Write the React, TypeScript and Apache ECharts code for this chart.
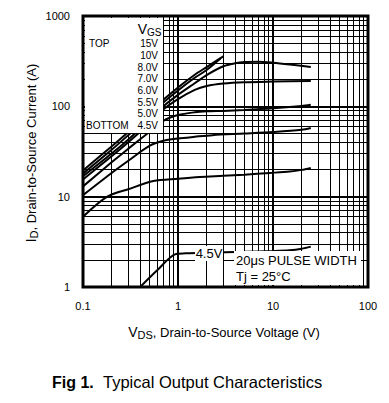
import React, { useEffect, useRef } from "react";
import * as echarts from "echarts";

// Grid values (log decades and minor lines)
const xMinor = [0.2, 0.3, 0.4, 0.5, 0.6, 0.7, 0.8, 0.9, 2, 3, 4, 5, 6, 7, 8, 9, 20, 30, 40, 50, 60, 70, 80, 90];
const yMinor = [2, 3, 4, 5, 6, 7, 8, 9, 20, 30, 40, 50, 60, 70, 80, 90, 200, 300, 400, 500, 600, 700, 800, 900];

// Curves: [VDS (V), ID (A)]
const vgs15 = [[0.1, 19.5], [0.2, 36], [0.3, 52], [0.5, 84], [0.7, 118], [1, 162], [1.5, 224], [2, 272], [3, 358]];
const vgs10 = [[0.1, 18], [0.2, 33], [0.3, 48], [0.5, 78], [0.7, 110], [1, 150], [1.5, 207], [2, 252], [2.8, 338]];
const vgs8 = [[0.1, 16.8], [0.2, 30], [0.3, 43], [0.5, 70], [0.7, 100], [1, 134], [1.5, 180], [2, 222], [3, 278], [4, 300], [5, 309], [7, 311], [10, 304], [15, 291], [25, 273]];
const vgs7 = [[0.1, 15.5], [0.2, 28], [0.3, 40], [0.5, 65], [0.7, 92], [1, 120], [1.5, 152], [2, 168], [3, 179], [5, 185], [10, 188], [25, 191]];
const vgs6 = [[0.1, 13], [0.2, 24], [0.3, 34], [0.5, 52], [0.7, 69], [1, 80], [1.5, 86], [2, 88], [3, 89], [5, 91], [10, 95], [20, 101], [25, 104]];
const vgs55 = [[0.1, 10.4], [0.2, 18.3], [0.3, 25], [0.5, 36.5], [0.7, 41.5], [1, 44], [1.5, 46], [2.3, 48], [5, 50], [10, 52], [20, 55], [25, 57.6]];
const vgs5 = [[0.1, 6.0], [0.18, 10.0], [0.3, 12.1], [0.55, 14.9], [1, 15.8], [1.7, 16.5], [3, 17], [5, 17.5], [9.3, 18.3], [15, 19], [20, 19.8], [25, 20.8]];
const vgs45 = [[0.4, 1.0], [0.6, 1.52], [0.93, 2.3], [1.2, 2.36], [2, 2.4], [5, 2.45], [10, 2.5], [15, 2.55], [20, 2.65], [25, 2.8]];

const curves = [vgs15, vgs10, vgs8, vgs7, vgs6, vgs55, vgs5, vgs45];
const legendLabels = ["15V", "10V", "8.0V", "7.0V", "6.0V", "5.5V", "5.0V", "4.5V"];

const FONT = "'Liberation Sans', Arial, Helvetica, sans-serif";

export default function App() {
  const ref = useRef<HTMLDivElement>(null);

  useEffect(() => {
    if (!ref.current) return;
    const chart = echarts.init(ref.current, undefined, { renderer: "svg" });

    const legendY = [43, 55, 67, 78.5, 90.5, 102, 113.5, 125.5];

    const graphic: any[] = [
      { type: "rect", z: 100, shape: { x: 85, y: 18, width: 78, height: 115 }, style: { fill: "#fff" } },
      { type: "rect", z: 100, shape: { x: 195, y: 246, width: 28, height: 15 }, style: { fill: "#fff" } },
      { type: "rect", z: 100, shape: { x: 234, y: 251, width: 127, height: 34 }, style: { fill: "#fff" } },
      { type: "text", z: 101, x: 147, y: 29, style: { text: "V", font: `14px ${FONT}`, fill: "#000", align: "right", verticalAlign: "middle" } },
      { type: "text", z: 101, x: 147, y: 32, style: { text: "GS", font: `10px ${FONT}`, fill: "#000", align: "left", verticalAlign: "middle" } },
      { type: "text", z: 101, x: 89, y: 43, style: { text: "TOP", font: `10px ${FONT}`, fill: "#000", align: "left", verticalAlign: "middle" } },
      { type: "text", z: 101, x: 86, y: 125.5, style: { text: "BOTTOM", font: `10px ${FONT}`, fill: "#000", align: "left", verticalAlign: "middle" } },
      { type: "text", z: 101, x: 209, y: 253, style: { text: "4.5V", font: `13px ${FONT}`, fill: "#000", align: "center", verticalAlign: "middle" } },
      { type: "text", z: 101, x: 236, y: 260, style: { text: "20\u03bcs PULSE WIDTH", font: `13px ${FONT}`, fill: "#000", align: "left", verticalAlign: "middle" } },
      { type: "text", z: 101, x: 236, y: 276, style: { text: "Tj = 25\u00b0C", font: `13px ${FONT}`, fill: "#000", align: "left", verticalAlign: "middle" } },
      {
        type: "text", z: 101, x: 224, y: 332,
        style: {
          text: "{v|V}{s|DS}{t|, Drain-to-Source Voltage (V)}",
          align: "center", verticalAlign: "middle", fill: "#000",
          rich: {
            v: { fontSize: 14, fontFamily: FONT, lineHeight: 16, fill: "#000" },
            s: { fontSize: 11, fontFamily: FONT, lineHeight: 8, verticalAlign: "bottom", fill: "#000" },
            t: { fontSize: 13, fontFamily: FONT, lineHeight: 16, fill: "#000" },
          },
        },
      },
      {
        type: "text", z: 101, x: 31, y: 153, rotation: Math.PI / 2,
        style: {
          text: "{v|I}{s|D}{t|, Drain-to-Source Current (A)}",
          align: "center", verticalAlign: "middle", fill: "#000",
          rich: {
            v: { fontSize: 14, fontFamily: FONT, lineHeight: 16, fill: "#000" },
            s: { fontSize: 11, fontFamily: FONT, lineHeight: 8, verticalAlign: "bottom", fill: "#000" },
            t: { fontSize: 13, fontFamily: FONT, lineHeight: 16, fill: "#000" },
          },
        },
      },
      { type: "text", z: 101, x: 52, y: 382, style: { text: "Fig 1.", font: `bold 16px ${FONT}`, fill: "#000", align: "left", verticalAlign: "middle" } },
      { type: "text", z: 101, x: 103, y: 382, style: { text: "Typical Output Characteristics", font: `16.5px ${FONT}`, fill: "#000", align: "left", verticalAlign: "middle" } },
    ];
    legendLabels.forEach((t, i) => {
      graphic.push({ type: "text", z: 101, x: 158, y: legendY[i], style: { text: t, font: `10px ${FONT}`, fill: "#000", align: "right", verticalAlign: "middle" } });
    });

    const series: any[] = [
      {
        type: "line",
        data: [[1, 1]],
        showSymbol: false,
        symbol: "none",
        lineStyle: { opacity: 0 },
        silent: true,
        z: 1,
        markLine: {
          silent: true,
          symbol: "none",
          animation: false,
          label: { show: false },
          lineStyle: { color: "#000", width: 1, type: "solid" },
          data: [
            ...xMinor.map((v) => ({ xAxis: v })),
            ...yMinor.map((v) => ({ yAxis: v })),
          ],
        },
      },
      ...curves.map((d) => ({
        type: "line",
        data: d,
        showSymbol: false,
        symbol: "none",
        smooth: 0.3,
        silent: true,
        z: 3,
        lineStyle: { color: "#000", width: 2 },
      })),
    ];

    chart.setOption({
      animation: false,
      backgroundColor: "#fff",
      grid: { left: 83, top: 16, width: 285, height: 271, show: true, borderColor: "#000", borderWidth: 3, backgroundColor: "transparent" },
      xAxis: {
        type: "log",
        logBase: 10,
        min: 0.1,
        max: 100,
        axisLine: { show: false },
        axisTick: { show: false },
        splitLine: { show: true, lineStyle: { color: "#000", width: 2 } },
        axisLabel: { color: "#000", fontSize: 11, fontFamily: FONT, margin: 13, formatter: (v: number) => String(v) },
      },
      yAxis: {
        type: "log",
        logBase: 10,
        min: 1,
        max: 1000,
        axisLine: { show: false },
        axisTick: { show: false },
        splitLine: { show: true, lineStyle: { color: "#000", width: 2 } },
        axisLabel: { color: "#000", fontSize: 11, fontFamily: FONT, margin: 13, formatter: (v: number) => String(v) },
      },
      graphic,
      series,
    });

    return () => chart.dispose();
  }, []);

  return (
    <div
      ref={ref}
      style={{ position: "fixed", left: 0, top: 0, width: 389, height: 403, background: "#fff" }}
    />
  );
}
